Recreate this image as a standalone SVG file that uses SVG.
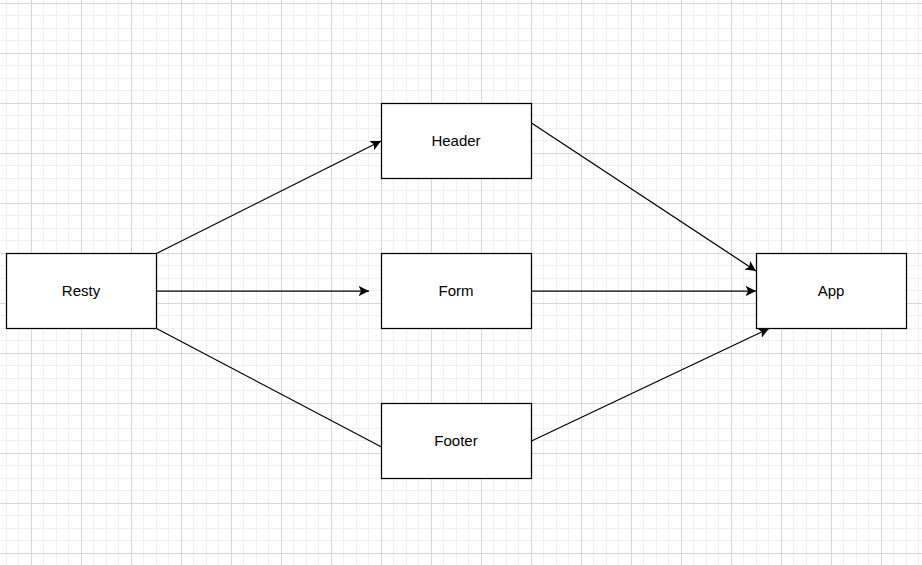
<svg xmlns="http://www.w3.org/2000/svg" width="922" height="565" viewBox="0 0 922 565">
<style>
.box{fill:#ffffff;stroke:#000000;stroke-width:1.25}
.lbl{font-family:"Liberation Sans",Arial,sans-serif;font-size:15px;fill:#000000;text-anchor:middle;dominant-baseline:central}
.edge{fill:none;stroke:#000000;stroke-width:1.25}
</style>
<defs>
<pattern id="minor" patternUnits="userSpaceOnUse" x="31" y="3" width="25" height="25">
<path d="M0.5 0V25M12.5 0V25M0 0.5H25M0 12.5H25" stroke="#f0f0f0" stroke-width="1" fill="none"/>
</pattern>
<pattern id="major" patternUnits="userSpaceOnUse" x="31" y="3" width="50" height="50">
<path d="M0.5 0V50M0 0.5H50" stroke="#d6d6d6" stroke-width="1" fill="none"/>
</pattern>
<marker id="arr" markerUnits="userSpaceOnUse" viewBox="0 0 10.5 10.5" markerWidth="10.5" markerHeight="10.5" refX="10.5" refY="5.25" orient="auto">
<path d="M0 0L10.5 5.25L0 10.5L2.6 5.25Z" fill="#000000"/>
</marker>
</defs>
<rect width="922" height="565" fill="#ffffff"/>
<rect width="922" height="565" fill="url(#minor)"/>
<rect width="922" height="565" fill="url(#major)"/>
<g id="edges">
<path class="edge" d="M156.5 253.5L381 141" marker-end="url(#arr)"/>
<path class="edge" d="M156.5 291L369 291" marker-end="url(#arr)"/>
<path class="edge" d="M156.5 328.5L381.5 447"/>
<path class="edge" d="M531.5 123L756 271" marker-end="url(#arr)"/>
<path class="edge" d="M531.5 291L756 291" marker-end="url(#arr)"/>
<path class="edge" d="M531.5 441L769 328.5" marker-end="url(#arr)"/>
</g>
<g id="resty"><rect class="box" x="6.5" y="253.5" width="150" height="75"/><text class="lbl" x="81" y="290">Resty</text></g>
<g id="header"><rect class="box" x="381.5" y="103.5" width="150" height="75"/><text class="lbl" x="456" y="140">Header</text></g>
<g id="form"><rect class="box" x="381.5" y="253.5" width="150" height="75"/><text class="lbl" x="456" y="290">Form</text></g>
<g id="footer"><rect class="box" x="381.5" y="403.5" width="150" height="75"/><text class="lbl" x="456" y="440">Footer</text></g>
<g id="app"><rect class="box" x="756.5" y="253.5" width="150" height="75"/><text class="lbl" x="831" y="290">App</text></g>
</svg>
